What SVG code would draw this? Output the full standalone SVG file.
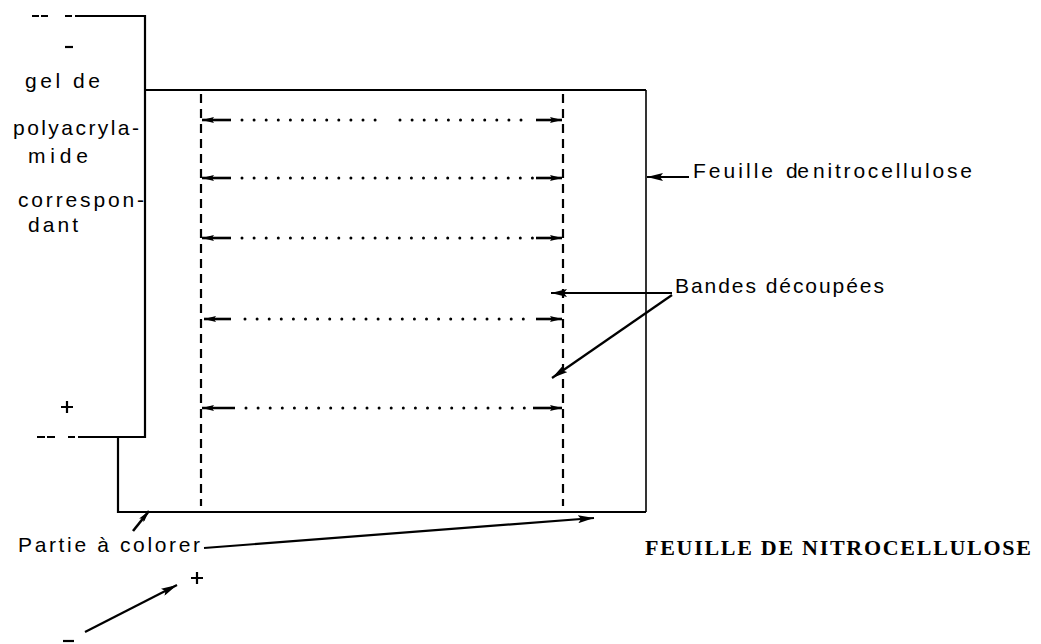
<svg xmlns="http://www.w3.org/2000/svg" width="1041" height="644" viewBox="0 0 1041 644">
<defs>
<style>
.sans{font-family:"Liberation Sans","DejaVu Sans",sans-serif;font-size:21px;fill:#000}
.mono{font-family:"Liberation Serif","DejaVu Serif",serif;font-size:22px;font-weight:bold;fill:#000}
.solid{stroke:#000;stroke-width:2.2;fill:none}
.thin{stroke:#000;stroke-width:1.6;fill:none}
.dash{stroke:#000;stroke-width:2.2;fill:none;stroke-dasharray:9 6}
.dots{stroke:#000;stroke-width:3;stroke-linecap:round;fill:none;stroke-dasharray:0 12.1}
.arr{stroke:#000;stroke-width:2.6;fill:none;marker-end:url(#ah)}
.ptr{stroke:#000;stroke-width:2.2;fill:none;marker-end:url(#ah2)}
</style>
<marker id="ah" viewBox="0 0 12 6" refX="12" refY="3" markerWidth="12" markerHeight="6" markerUnits="userSpaceOnUse" orient="auto">
<path d="M0,0 L12,3 L0,6 L2,3 Z" fill="#000"/>
</marker>
<marker id="ah2" viewBox="0 0 16 8" refX="16" refY="4" markerWidth="16" markerHeight="8" markerUnits="userSpaceOnUse" orient="auto">
<path d="M0,0 L16,4 L0,8 L3,4 Z" fill="#000"/>
</marker>
</defs>
<rect width="1041" height="644" fill="#fff"/>

<g id="gel">
<path class="solid" d="M75,16 H145 V437 H78"/>
<path class="solid" d="M32,16 H39 M41,16 H48 M65,16 H72"/>
<path class="solid" d="M37,437 H45 M47,437 H55 M68,437 H75"/>
<line class="solid" x1="65" y1="47" x2="73" y2="47" stroke-width="2.6"/>
<path class="solid" d="M61,407 H73 M67,401 V413"/>
<text class="sans" x="25" y="88" textLength="75" lengthAdjust="spacing">gel de</text>
<text class="sans" x="13" y="135" textLength="126" lengthAdjust="spacing">polyacryla-</text>
<text class="sans" x="28" y="163" textLength="60" lengthAdjust="spacing">mide</text>
<text class="sans" x="18" y="207" textLength="126" lengthAdjust="spacing">correspon-</text>
<text class="sans" x="28" y="232" textLength="50" lengthAdjust="spacing">dant</text>
</g>

<g id="nitrocellulose">
<path class="solid" d="M145,90 H646"/>
<path class="solid" d="M118,437 V512 H646"/>
<path class="thin" d="M646,90 V512"/>
<line class="dash" x1="201" y1="94" x2="201" y2="506"/>
<line class="dash" x1="563" y1="94" x2="563" y2="506"/>
<text class="mono" x="645" y="555" textLength="386" lengthAdjust="spacing">FEUILLE DE NITROCELLULOSE</text>
</g>

<g id="bandes">
<line class="arr" x1="231" y1="120" x2="202" y2="120"/>
<line class="dots" x1="242" y1="120" x2="378" y2="120"/>
<line class="dots" x1="400" y1="120" x2="533" y2="120"/>
<line class="arr" x1="536" y1="120" x2="562" y2="120"/>

<line class="arr" x1="231" y1="178" x2="202" y2="178"/>
<line class="dots" x1="242" y1="178" x2="533" y2="178"/>
<line class="arr" x1="536" y1="178" x2="562" y2="178"/>

<line class="arr" x1="231" y1="238" x2="202" y2="238"/>
<line class="dots" x1="242" y1="238" x2="533" y2="238"/>
<line class="arr" x1="536" y1="238" x2="562" y2="238"/>

<line class="arr" x1="231" y1="319" x2="204" y2="319"/>
<line class="dots" x1="245" y1="319" x2="533" y2="319"/>
<line class="arr" x1="536" y1="319" x2="562" y2="319"/>

<line class="arr" x1="235" y1="408" x2="202" y2="408"/>
<line class="dots" x1="246" y1="408" x2="530" y2="408"/>
<line class="arr" x1="533" y1="408" x2="562" y2="408"/>
</g>

<g id="labels">
<text class="sans" x="693" y="178" textLength="80" lengthAdjust="spacing">Feuille</text>
<text class="sans" x="786" y="178" textLength="23" lengthAdjust="spacing">de</text>
<text class="sans" x="813" y="178" textLength="159" lengthAdjust="spacing">nitrocellulose</text>
<text class="sans" x="675" y="293" textLength="209" lengthAdjust="spacing">Bandes découpées</text>
<text class="sans" x="18" y="552" textLength="182" lengthAdjust="spacing">Partie à colorer</text>
<path class="solid" d="M191,578 H203 M197,572 V584"/>
<line class="solid" x1="63" y1="641" x2="74" y2="641" stroke-width="3"/>
</g>

<g id="connectors">
<line class="ptr" x1="689" y1="177" x2="647" y2="177"/>
<line class="ptr" x1="672" y1="293" x2="551" y2="293"/>
<line class="ptr" x1="672" y1="295" x2="552" y2="378"/>
<line class="arr" x1="133" y1="531" x2="149" y2="511" stroke-width="1.8"/>
<line class="ptr" x1="204" y1="548" x2="594" y2="518"/>
<line class="ptr" x1="85" y1="632" x2="177" y2="585"/>
</g>
</svg>
